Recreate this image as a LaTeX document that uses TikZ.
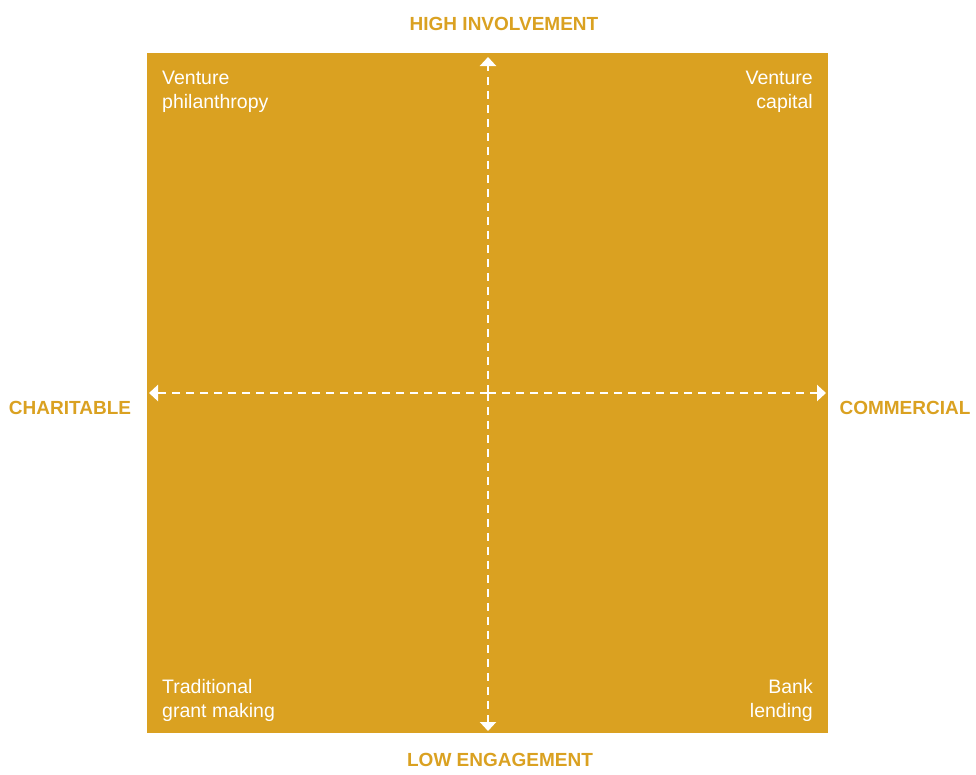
\documentclass[tikz,border=0pt]{standalone}
\usepackage{fontspec}
\setmainfont{Liberation Sans}
\usetikzlibrary{arrows.meta}
\definecolor{gold}{HTML}{DAA121}
\tikzset{
  axislab/.style={text=gold,font=\bfseries\fontsize{19}{22}\selectfont,inner sep=0pt},
  quad/.style={text=white,font=\fontsize{19.5}{24}\selectfont,inner sep=0pt},
  axis/.style={white,line width=2.6pt,dash pattern=on 8pt off 6pt,-{Triangle[width=16pt,length=9pt]}},
}
\begin{document}
\begin{tikzpicture}[x=1pt,y=-1pt]
\useasboundingbox (0,0) rectangle (976,774);
\fill[gold] (147,53) rectangle (828,733);
\coordinate (c) at (488,393);
\coordinate (top) at (488,57);
\coordinate (bot) at (488,731);
\coordinate (lft) at (149,393);
\coordinate (rgt) at (826,393);
\draw[axis] (c) -- (top);
\draw[axis] (c) -- (bot);
\draw[axis] (c) -- (lft);
\draw[axis] (c) -- (rgt);
\node[axislab] (hi) at (504,24) {HIGH INVOLVEMENT};
\node[axislab] (lo) at (500,760) {LOW ENGAGEMENT};
\node[axislab] (ch) at (70,408) {CHARITABLE};
\node[axislab] (co) at (905,408) {COMMERCIAL};
\node[quad,anchor=north west,align=left] (vp) at (162,71) {Venture\\philanthropy};
\node[quad,anchor=north east,align=right] (vc) at (813,71) {Venture\\capital};
\node[quad,anchor=north west,align=left] (tg) at (162,679) {Traditional\\grant making};
\node[quad,anchor=north east,align=right] (bl) at (813,679) {Bank\\lending};
\end{tikzpicture}
\end{document}
